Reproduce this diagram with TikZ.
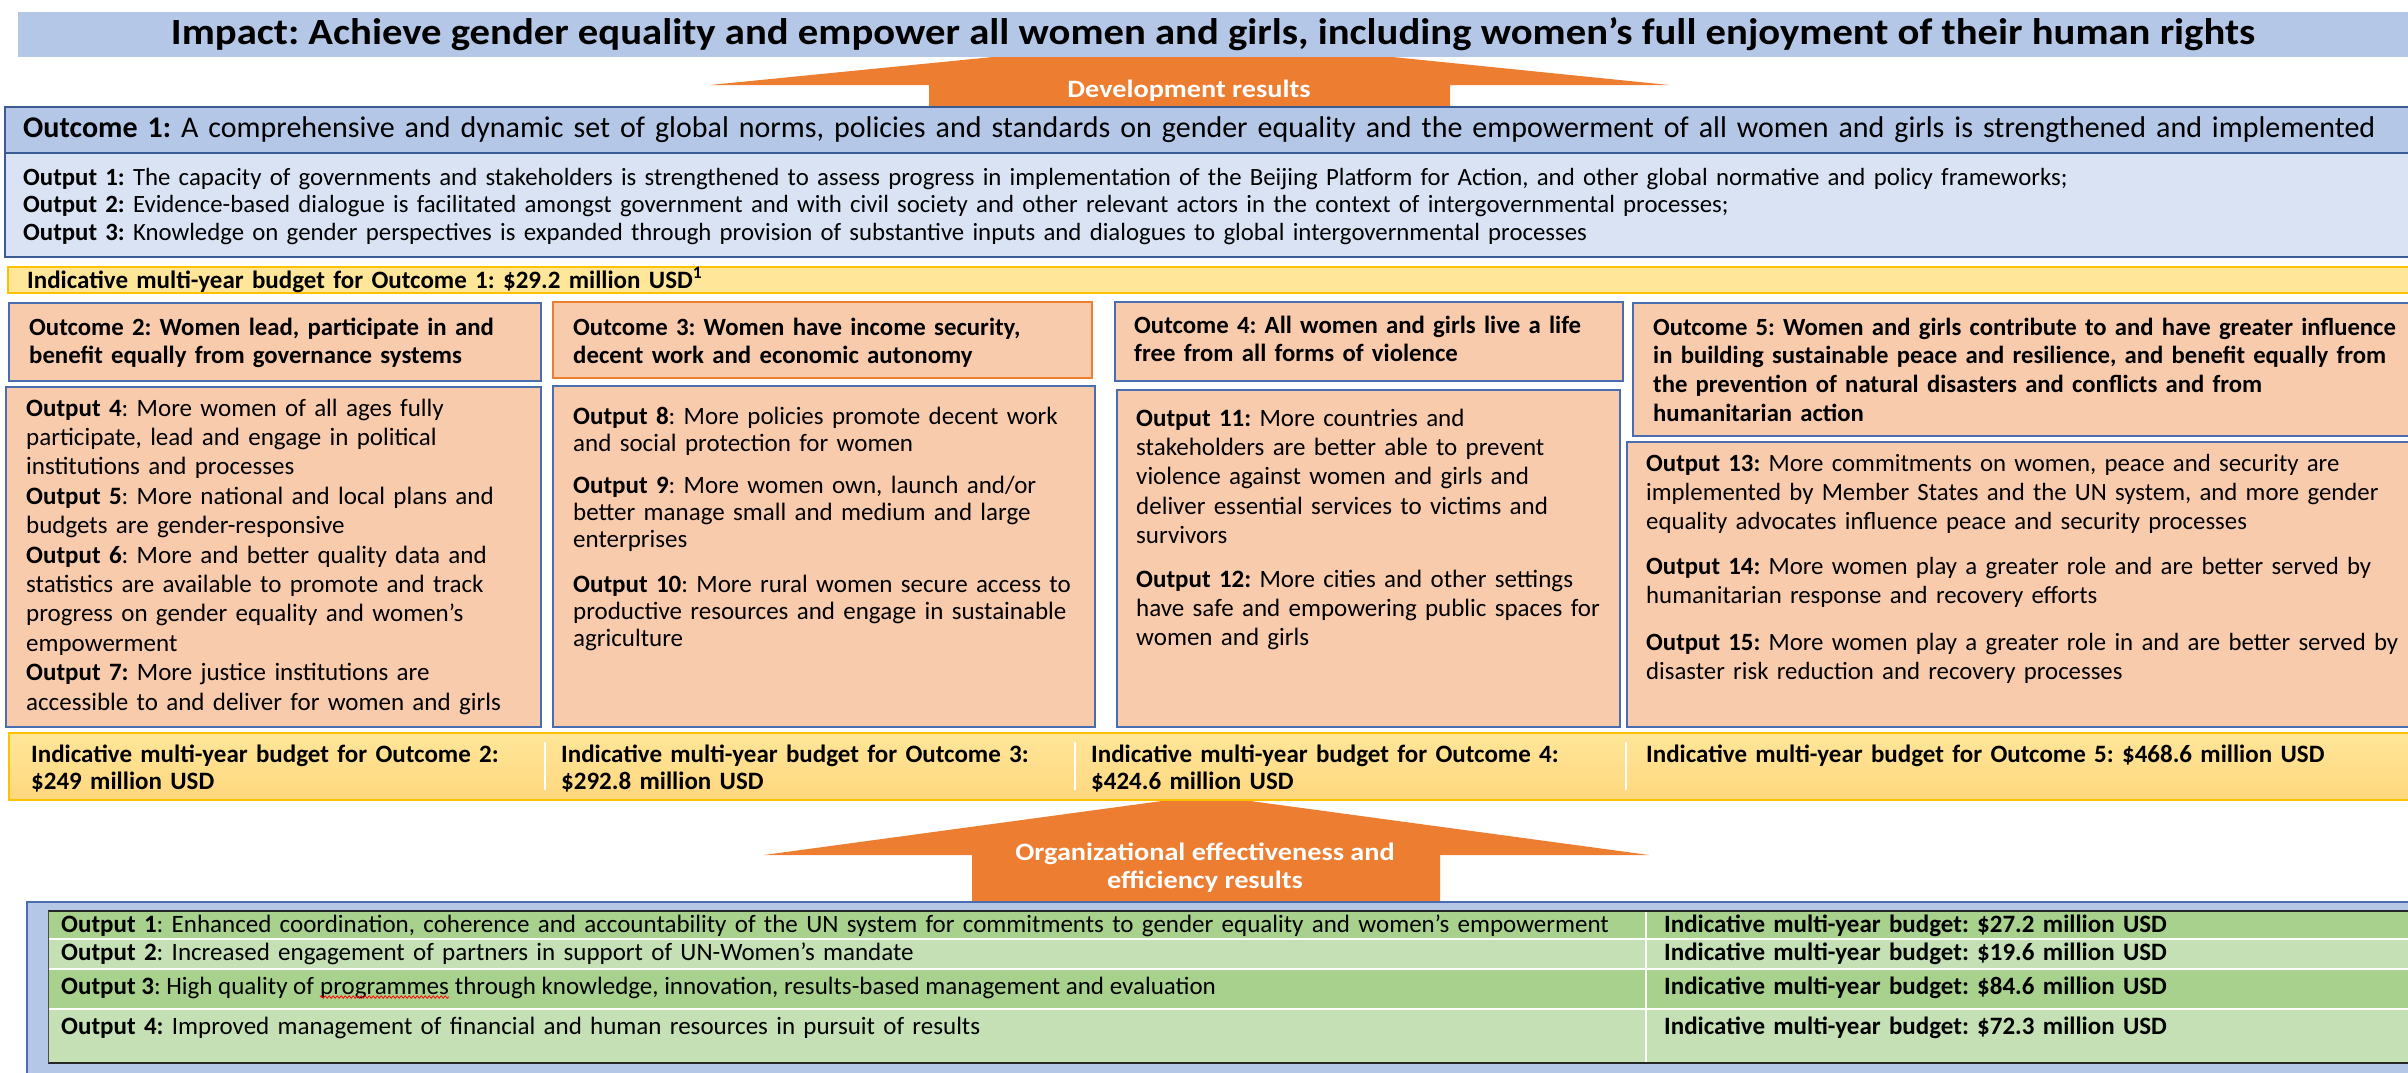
\documentclass[tikz,border=0pt]{standalone}
\usepackage{fontspec}
\setmainfont{Carlito}
\usetikzlibrary{positioning, decorations.pathmorphing}

\definecolor{impactblue}{HTML}{B4C7E7}
\definecolor{paleblue}{HTML}{DAE3F3}
\definecolor{edgeblue}{HTML}{4A6DAF}
\definecolor{darkedge}{HTML}{3B5B95}
\definecolor{peach}{HTML}{F8CBAD}
\definecolor{resorange}{HTML}{ED7D31}
\definecolor{budgetfill}{HTML}{FFE699}
\definecolor{budgetdeep}{HTML}{FFD77E}
\definecolor{budgetedge}{HTML}{FFC000}
\definecolor{greendark}{HTML}{A9D18E}
\definecolor{greenlight}{HTML}{C5E0B4}

\newcommand\fs[2]{\fontsize{#1}{#2}\selectfont}
\newcommand\wide[1]{\addfontfeatures{FakeStretch=#1}}

\tikzset{
  bar/.style={anchor=north west, inner sep=0pt, outer sep=0pt, line width=1.5pt},
  panel/.style={bar, fill=peach, draw=edgeblue},
  txt/.style={anchor=base west, inner sep=0pt, text width=#1, align=left},
  txt/.default=500pt,
  headfont/.style={font=\bfseries\fs{24.8}{28}},
  bodyfont/.style={font=\fs{25}{29.4}},
  budfont/.style={font=\bfseries\fs{25}{27}},
  rowfont/.style={font=\fs{25}{27}},
  arrowtext/.style={text=white, font=\bfseries\fs{25}{28}\wide{1.13}, align=center, inner sep=0pt}
}

\begin{document}
\frenchspacing
\begin{tikzpicture}[x=1pt, y=-1pt]
\useasboundingbox (0,0) rectangle (2408,1072);

% results arrows (tips run under the bars above them)
\fill[resorange] (929,107) -- (929,85) -- (710,85) -- (1195,37) -- (1669,85) -- (1450,85) -- (1450,107) -- cycle;
\fill[resorange] (972,902) -- (972,855) -- (764,855) -- (1206,795) -- (1649,855) -- (1440,855) -- (1440,902) -- cycle;

% impact
\node[bar, fill=impactblue, minimum width=2390pt, minimum height=45pt, font=\bfseries\fs{37}{42}\wide{1.1}] (impact) at (18,12)
  {Impact: Achieve gender equality and empower all women and girls, including women’s full enjoyment of their human rights};
\node[arrowtext, anchor=base] (devres) at (1189,97) {Development results};

% outcome 1
\node[bar, fill=impactblue, draw=darkedge, minimum width=2420pt, minimum height=46pt] (oc1box) at (5,107) {};
\node[txt=2380pt, font=\fs{30}{34}] (oc1) at (23,137)
  {\textbf{Outcome 1:} A comprehensive and dynamic set of global norms, policies and standards on gender equality and the empowerment of all women and girls is strengthened and implemented};
\node[bar, fill=paleblue, draw=darkedge, minimum width=2420pt, minimum height=104pt] (op1box) at (5,153) {};
\node[txt=2380pt, font=\fs{24.8}{27.5}] (op1) at (23,185)
  {\textbf{Output 1:} The capacity of governments and stakeholders is strengthened to assess progress in implementation of the Beijing Platform for Action, and other global normative and policy frameworks;\\
   \textbf{Output 2:} Evidence-based dialogue is facilitated amongst government and with civil society and other relevant actors in the context of intergovernmental processes;\\
   \textbf{Output 3:} Knowledge on gender perspectives is expanded through provision of substantive inputs and dialogues to global intergovernmental processes};
\node[bar, fill=budgetfill, draw=budgetedge, minimum width=2410pt, minimum height=26pt] (bud1box) at (8,267) {};
\node[txt=1200pt, budfont] (bud1) at (27,288) {Indicative multi-year budget for Outcome 1: \$29.2 million USD\textsuperscript{1}};

% outcomes 2-5
\node[panel, minimum width=532pt, minimum height=78pt] (oc2box) at (9,303) {};
\node[panel, draw=resorange, minimum width=539pt, minimum height=76pt] (oc3box) at (553,302) {};
\node[panel, minimum width=508pt, minimum height=79pt] (oc4box) at (1115,302) {};
\node[panel, minimum width=800pt, minimum height=133pt] (oc5box) at (1633,303) {};
\node[txt, headfont] (oc2) at (29,335) {Outcome 2: Women lead, participate in and\\benefit equally from governance systems};
\node[txt=510pt, headfont] (oc3) at (573,335) {Outcome 3: Women have income security,\\decent work and economic autonomy};
\node[txt=480pt, headfont] (oc4) at (1134,333) {Outcome 4: All women and girls live a life\\free from all forms of violence};
\node[txt=750pt, font=\bfseries\fs{24.7}{28.7}] (oc5) at (1653,335)
  {Outcome 5: Women and girls contribute to and have greater influence\\in building sustainable peace and resilience, and benefit equally from\\the prevention of natural disasters and conflicts and from\\humanitarian action};

% outputs 4-15
\node[panel, minimum width=535pt, minimum height=340pt] (op4box) at (6,387) {};
\node[panel, minimum width=542pt, minimum height=341pt] (op8box) at (553,386) {};
\node[panel, minimum width=503pt, minimum height=337pt] (op11box) at (1117,390) {};
\node[panel, minimum width=800pt, minimum height=285pt] (op13box) at (1627,442) {};
\node[txt=510pt, bodyfont] (op4) at (26,416)
  {\textbf{Output 4}: More women of all ages fully\\participate, lead and engage in political\\institutions and processes\\
   \textbf{Output 5}: More national and local plans and\\budgets are gender-responsive\\
   \textbf{Output 6}: More and better quality data and\\statistics are available to promote and track\\progress on gender equality and women’s\\empowerment\\
   \textbf{Output 7:} More justice institutions are\\accessible to and deliver for women and girls};
\node[txt=515pt, font=\fs{25}{27}] (op8) at (573,424)
  {\textbf{Output 8}: More policies promote decent work\\and social protection for women\\[15pt]
   \textbf{Output 9}: More women own, launch and/or\\better manage small and medium and large\\enterprises\\[18pt]
   \textbf{Output 10}: More rural women secure access to\\productive resources and engage in sustainable\\agriculture};
\node[txt=480pt, bodyfont] (op11) at (1136,426)
  {\textbf{Output 11:} More countries and\\stakeholders are better able to prevent\\violence against women and girls and\\deliver essential services to victims and\\survivors\\[14pt]
   \textbf{Output 12:} More cities and other settings\\have safe and empowering public spaces for\\women and girls};
\node[txt=758pt, font=\fs{24.8}{29}] (op13) at (1646,471)
  {\textbf{Output 13:} More commitments on women, peace and security are\\implemented by Member States and the UN system, and more gender\\equality advocates influence peace and security processes\\[16pt]
   \textbf{Output 14:} More women play a greater role and are better served by\\humanitarian response and recovery efforts\\[18pt]
   \textbf{Output 15:} More women play a greater role in and are better served by\\disaster risk reduction and recovery processes};

% budgets for outcomes 2-5
\node[bar, top color=budgetfill, bottom color=budgetdeep, draw=budgetedge, minimum width=2410pt, minimum height=67pt] (budrow) at (9,733) {};
\foreach \x in {545,1075,1626}
  \draw[white, line width=1.5pt] (\x,742) -- (\x,790);
\node[txt, budfont] (bud2) at (31,762) {Indicative multi-year budget for Outcome 2:\\\$249 million USD};
\node[txt, budfont] (bud3) at (561,762) {Indicative multi-year budget for Outcome 3:\\\$292.8 million USD};
\node[txt, budfont] (bud4) at (1091,762) {Indicative multi-year budget for Outcome 4:\\\$424.6 million USD};
\node[txt=740pt, budfont] (bud5) at (1646,762) {Indicative multi-year budget for Outcome 5: \$468.6 million USD};
\node[arrowtext, anchor=base] (orgres) at (1205,888) {Organizational effectiveness and\\efficiency results};

% organizational effectiveness and efficiency table
\node[bar, fill=impactblue, draw=edgeblue, minimum width=2400pt, minimum height=190pt] (orgbox) at (27,902) {};
\foreach \ya/\yb/\c in {911/939/greendark, 939/969/greenlight, 969/1009/greendark, 1009/1063/greenlight}
  \fill[\c] (48,\ya) rectangle (2420,\yb);
\foreach \y in {939,969,1009}
  \draw[white, line width=2pt] (48,\y) -- (2420,\y);
\draw[white, line width=2pt] (1646,911) -- (1646,1063);
\draw[black!85, line width=2.5pt] (48,911) -- (2420,911) (48,1063) -- (2420,1063);
\draw[black!70, line width=0.8pt] (48,911) -- (48,1063);
\foreach \i/\yb/\txt in {
    1/932/{\textbf{Output 1}: Enhanced coordination, coherence and accountability of the UN system for commitments to gender equality and women’s empowerment},
    2/960/{\textbf{Output 2}: Increased engagement of partners in support of UN-Women’s mandate},
    4/1034/{\textbf{Output 4:} Improved management of financial and human resources in pursuit of results}}
  \node[txt=1575pt, rowfont] (row\i) at (61,\yb) {\txt};
\node[anchor=base west, inner sep=0pt, rowfont] (row3) at (61,994) {\textbf{Output 3}: High quality of\ \mbox{}};
\node[anchor=base west, inner sep=0pt, rowfont] (prog) at (row3.base east) {programmes};
\node[anchor=base west, inner sep=0pt, rowfont] (row3b) at (prog.base east) {\mbox{}\ through knowledge, innovation, results-based management and evaluation};
\draw[red, line width=0.8pt, decorate, decoration={snake, amplitude=1.2pt, segment length=4pt}]
  ([yshift=-3pt]prog.base west) -- ([yshift=-3pt]prog.base east);
\foreach \i/\yb/\amt in {1/932/27.2, 2/960/19.6, 3/994/84.6, 4/1034/72.3}
  \node[txt=700pt, budfont] (amt\i) at (1664,\yb) {Indicative multi-year budget: \$\amt\ million USD};
\end{tikzpicture}
\end{document}
